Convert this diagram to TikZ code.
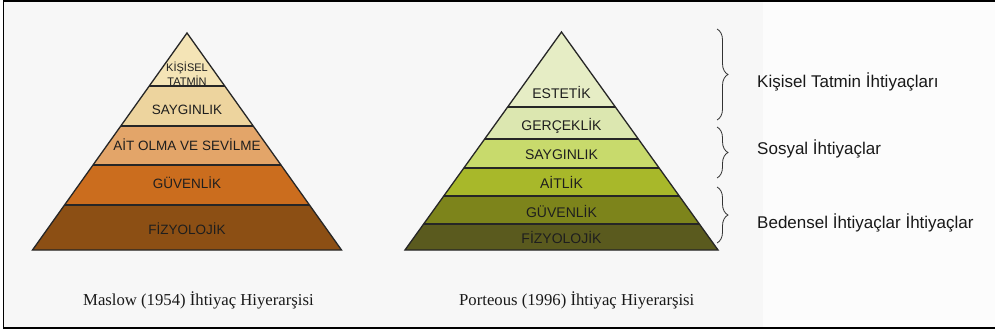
\documentclass[tikz,border=0pt]{standalone}
\usepackage{fontspec}
\setmainfont{Liberation Serif}
\setsansfont{Liberation Sans}
\usetikzlibrary{decorations.pathreplacing}
\definecolor{bgl}{HTML}{F7F7F7}
\definecolor{bgr}{HTML}{FCFCFC}
\definecolor{mA}{HTML}{F4E4B6}
\definecolor{mB}{HTML}{EDD49E}
\definecolor{mC}{HTML}{E3A569}
\definecolor{mD}{HTML}{CB6D1E}
\definecolor{mE}{HTML}{8C4F14}
\definecolor{pA}{HTML}{E6EDC5}
\definecolor{pB}{HTML}{DCE7B0}
\definecolor{pC}{HTML}{C8DA6C}
\definecolor{pD}{HTML}{A8B82A}
\definecolor{pE}{HTML}{7D841B}
\definecolor{pF}{HTML}{5A5A1E}
\definecolor{txt}{HTML}{1E1E1E}
\newcommand\pyrlayer[6]{%
  \pgfmathsetmacro\wa{#3*(#4-#2)}%
  \pgfmathsetmacro\wb{#3*(#5-#2)}%
  \fill[#6] (#1-\wa,#4) -- (#1+\wa,#4) -- (#1+\wb,#5) -- (#1-\wb,#5) -- cycle;}
\newcommand\pyrline[4]{%
  \pgfmathsetmacro\wa{#3*(#4-#2)}%
  \draw[sep] (#1-\wa,#4) -- (#1+\wa,#4);}
\begin{document}
\begin{tikzpicture}[x=1pt,y=-1pt,
  sep/.style={line width=1.2pt,draw=black!85},
  outline/.style={line width=1.3pt,draw=black!85,line join=miter},
  lbl/.style={font=\sffamily\fontsize{13.5}{15}\selectfont,text=txt,inner sep=0pt,anchor=base},
  plbl/.style={font=\sffamily\fontsize{14}{15}\selectfont,text=txt,inner sep=0pt,anchor=base},
  side/.style={font=\sffamily\fontsize{17}{19}\selectfont,text=black!90,inner sep=0pt,anchor=base west},
  captxt/.style={font=\rmfamily\fontsize{16.7}{19}\selectfont,text=black!90,inner sep=0pt,anchor=base west},
  brc/.style={decorate,decoration={brace,amplitude=11pt},line width=0.8pt,draw=black!80}]
\useasboundingbox (0,0) rectangle (995,332);
\fill[white] (0,0) rectangle (995,332);
\fill[bgl] (4,2) rectangle (763,327);
\fill[bgr] (763,2) rectangle (995,327);
\draw[line width=2pt] (3,1) -- (995,1);
\draw[line width=1.6pt] (3.6,0) -- (3.6,329);
\draw[line width=2pt] (3,328) -- (995,328);
% Maslow pyramid
\def\mc{187}\def\ma{33}\def\ms{0.712}
\pyrlayer{\mc}{\ma}{\ms}{33}{86}{mA}
\pyrlayer{\mc}{\ma}{\ms}{86}{126}{mB}
\pyrlayer{\mc}{\ma}{\ms}{126}{165}{mC}
\pyrlayer{\mc}{\ma}{\ms}{165}{205}{mD}
\pyrlayer{\mc}{\ma}{\ms}{205}{250}{mE}
\foreach \yy in {86,126,165,205}{\pyrline{\mc}{\ma}{\ms}{\yy}}
\pgfmathsetmacro\wm{\ms*(250-\ma)}
\draw[outline] (\mc,\ma) -- (\mc+\wm,250) -- (\mc-\wm,250) -- cycle;
\node[lbl,font=\sffamily\fontsize{11}{12}\selectfont] (m1a) at (\mc,71.5) {KİŞİSEL};
\node[lbl,font=\sffamily\fontsize{11}{12}\selectfont] (m1b) at (\mc,85) {TATMİN};
\node[lbl] (m2) at (\mc,114) {SAYGINLIK};
\node[lbl] (m3) at (\mc,150) {AİT OLMA VE SEVİLME};
\node[lbl] (m4) at (\mc,188) {GÜVENLİK};
\node[lbl] (m5) at (\mc,234) {FİZYOLOJİK};
% Porteous pyramid
\def\pc{561.5}\def\pa{32}\def\ps{0.718}
\pyrlayer{\pc}{\pa}{\ps}{32}{107}{pA}
\pyrlayer{\pc}{\pa}{\ps}{107}{139}{pB}
\pyrlayer{\pc}{\pa}{\ps}{139}{168}{pC}
\pyrlayer{\pc}{\pa}{\ps}{168}{196}{pD}
\pyrlayer{\pc}{\pa}{\ps}{196}{224}{pE}
\pyrlayer{\pc}{\pa}{\ps}{224}{250}{pF}
\foreach \yy in {107,139,168,196,224}{\pyrline{\pc}{\pa}{\ps}{\yy}}
\pgfmathsetmacro\wp{\ps*(250-\pa)}
\draw[outline] (\pc,\pa) -- (\pc+\wp,250) -- (\pc-\wp,250) -- cycle;
\node[plbl] (p1) at (\pc,98) {ESTETİK};
\node[plbl] (p2) at (\pc,130) {GERÇEKLİK};
\node[plbl] (p3) at (\pc,159) {SAYGINLIK};
\node[plbl] (p4) at (\pc,188) {AİTLİK};
\node[plbl] (p5) at (\pc,217) {GÜVENLİK};
\node[plbl] (p6) at (\pc,243) {FİZYOLOJİK};
% braces
\coordinate (b1s) at (717,29); \coordinate (b1e) at (717,120);
\coordinate (b2s) at (717,127); \coordinate (b2e) at (717,178);
\coordinate (b3s) at (717,187); \coordinate (b3e) at (717,243);
\draw[brc] (b1s) -- (b1e);
\draw[brc] (b2s) -- (b2e);
\draw[brc] (b3s) -- (b3e);
\node[side] (s1) at (757,87) {Kişisel Tatmin İhtiyaçları};
\node[side] (s2) at (757,154) {Sosyal İhtiyaçlar};
\node[side] (s3) at (757,228) {Bedensel İhtiyaçlar İhtiyaçlar};
% captions
\node[captxt] (c1) at (83,305) {Maslow (1954) İhtiyaç Hiyerarşisi};
\node[captxt] (c2) at (459,305) {Porteous (1996) İhtiyaç Hiyerarşisi};
\end{tikzpicture}
\end{document}
